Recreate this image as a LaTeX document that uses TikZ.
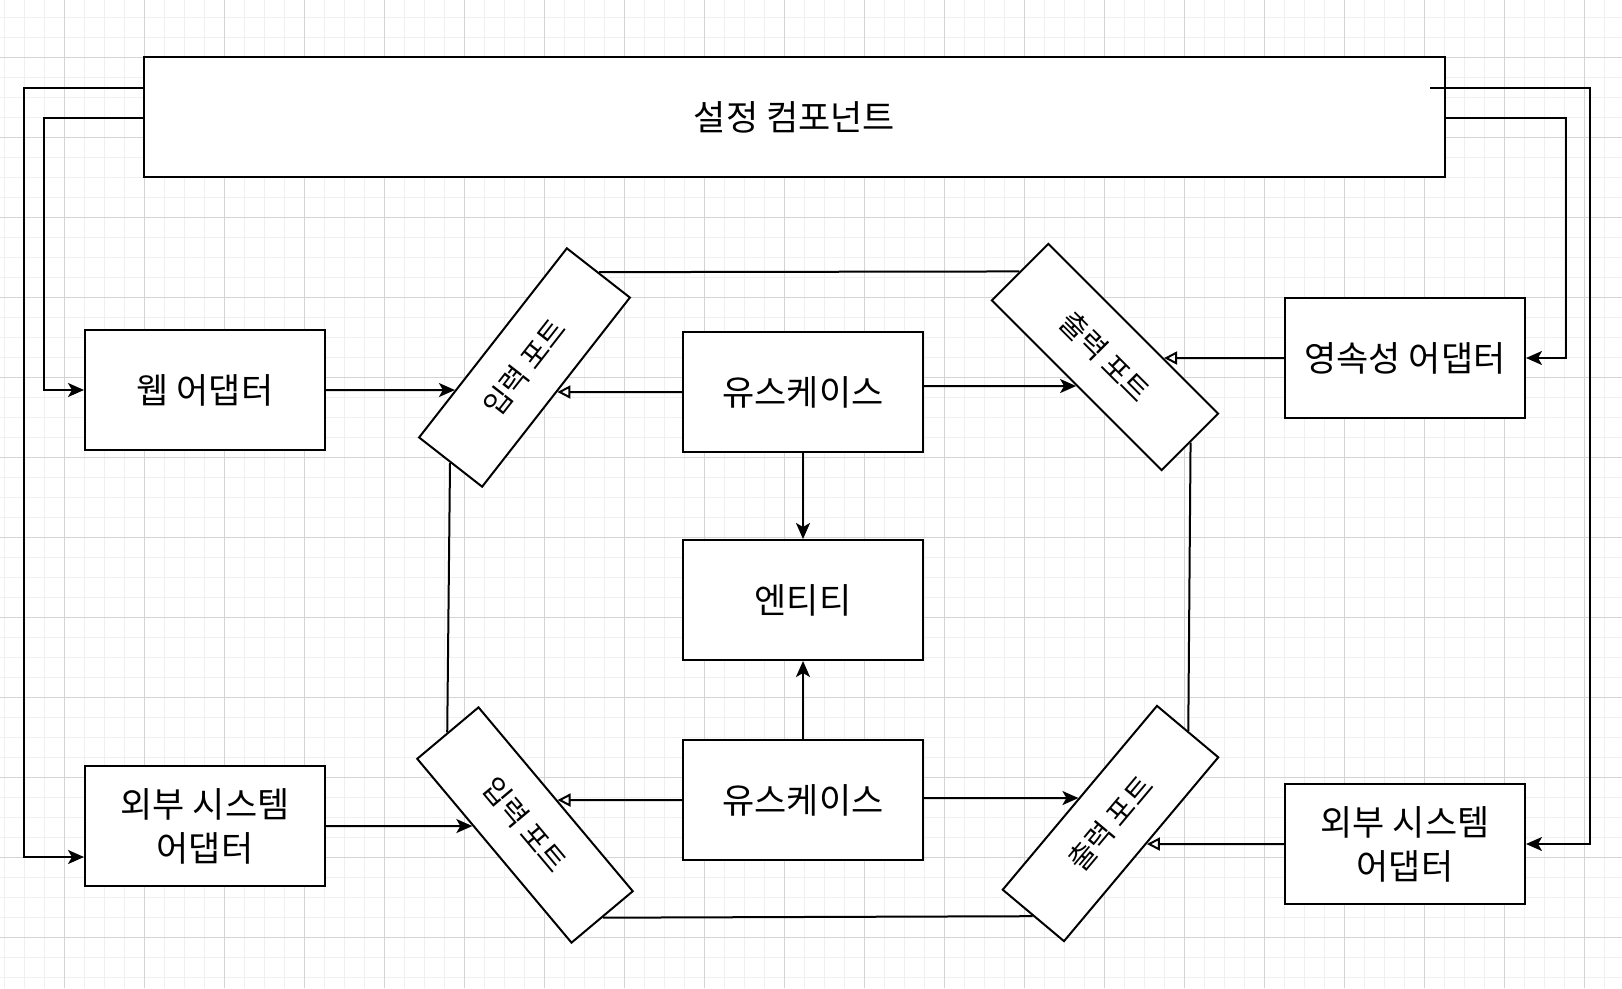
\documentclass[tikz,border=0pt]{standalone}
\usepackage{fontspec}
\setmainfont{Noto Sans CJK KR}
\usetikzlibrary{arrows.meta}
\definecolor{gridminor}{RGB}{240,240,240}
\definecolor{gridmajor}{RGB}{212,212,212}
\begin{document}
\begin{tikzpicture}[x=1pt,y=-1pt,
    box/.style={draw,fill=white,line width=2pt,minimum width=240pt,minimum height=120pt,
      inner sep=0pt,align=center,font=\fontsize{35}{44}\selectfont},
    port/.style={draw,fill=white,line width=2pt,minimum width=240pt,minimum height=80pt,
      inner sep=0pt,font=\fontsize{29}{32}\selectfont},
    conn/.style={line width=2pt},
    arr/.style={conn,-{Stealth[length=16pt,width=14pt,inset=4pt]}},
    impl/.style={conn,-{Triangle[open,length=13pt,width=13pt]}}]
      \useasboundingbox (0,0) rectangle (1622,988);
      \fill[white] (0,0) rectangle (1622,988);
      \foreach \x in {4,24,...,1620} \draw[gridminor,line width=1pt] (\x,0) -- (\x,988);
      \foreach \y in {17,37,...,987} \draw[gridminor,line width=1pt] (0,\y) -- (1622,\y);
      \foreach \x in {64,144,...,1620} \draw[gridmajor,line width=1pt] (\x,0) -- (\x,988);
      \foreach \y in {57,137,...,987} \draw[gridmajor,line width=1pt] (0,\y) -- (1622,\y);
      \draw
        (794.5,117) node[box,minimum width=1301pt] (config){설정 컴포넌트}
        (205,390) node[box] (web){웹 어댑터}
        (205,826) node[box] (extL){외부 시스템\\어댑터}
        (1405,358) node[box] (pers){영속성 어댑터}
        (1405,844) node[box] (extR){외부 시스템\\어댑터}
        (803,392) node[box] (uc1){유스케이스}
        (803,600) node[box] (ent){엔티티}
        (803,800) node[box] (uc2){유스케이스}
        (524.5,367.5) node[port,rotate=52] (inTL){입력 포트}
        (525,825) node[port,rotate=-50] (inBL){입력 포트}
        (1105,357) node[port,rotate=-45] (outTR){출력 포트}
        (1110.5,823.5) node[port,rotate=50] (outBR){출력 포트};
      \begin{scope}[conn]
        \draw (inTL.east) to (outTR.west);
        \draw (outTR.east) to (outBR.east);
        \draw (outBR.west) to (inBL.east);
        \draw (inBL.west) to (inTL.west);
      \end{scope}
      \begin{scope}[arr]
        \draw (web.east) to (intersection of web.east--[xshift=10pt]web.east and inTL.north west--inTL.north east);
        \draw ([yshift=6pt]uc1.east) to (intersection of [yshift=6pt]uc1.east--[xshift=10pt,yshift=6pt]uc1.east and outTR.south west--outTR.south east);
        \draw (extL.east) to (intersection of extL.east--[xshift=10pt]extL.east and inBL.south west--inBL.south east);
        \draw ([yshift=2pt]uc2.east) to (intersection of [yshift=2pt]uc2.east--[xshift=10pt,yshift=2pt]uc2.east and outBR.north west--outBR.north east);
        \draw (uc1) to (ent);
        \draw (uc2) to (ent);
        \draw ([yshift=29pt]config.west) -- ++(-119,0) |- ([yshift=-31pt]extL.west);
        \draw ([yshift=-1pt]config.west) -- ++(-99,0) |- (web.west);
        \draw ([xshift=-16pt,yshift=29pt]config.east) -- ++(160,0) |- (extR.east);
        \draw ([yshift=-1pt]config.east) -- ++(120,0) |- (pers.east);
      \end{scope}
      \begin{scope}[impl]
        \draw (uc1.west) to (intersection of uc1.west--[xshift=-10pt]uc1.west and inTL.south west--inTL.south east);
        \draw (pers.west) to (intersection of pers.west--[xshift=-10pt]pers.west and outTR.north west--outTR.north east);
        \draw (uc2.west) to (intersection of uc2.west--[xshift=-10pt]uc2.west and inBL.north west--inBL.north east);
        \draw (extR.west) to (intersection of extR.west--[xshift=-10pt]extR.west and outBR.south west--outBR.south east);
      \end{scope}
    \end{tikzpicture}
\end{document}
